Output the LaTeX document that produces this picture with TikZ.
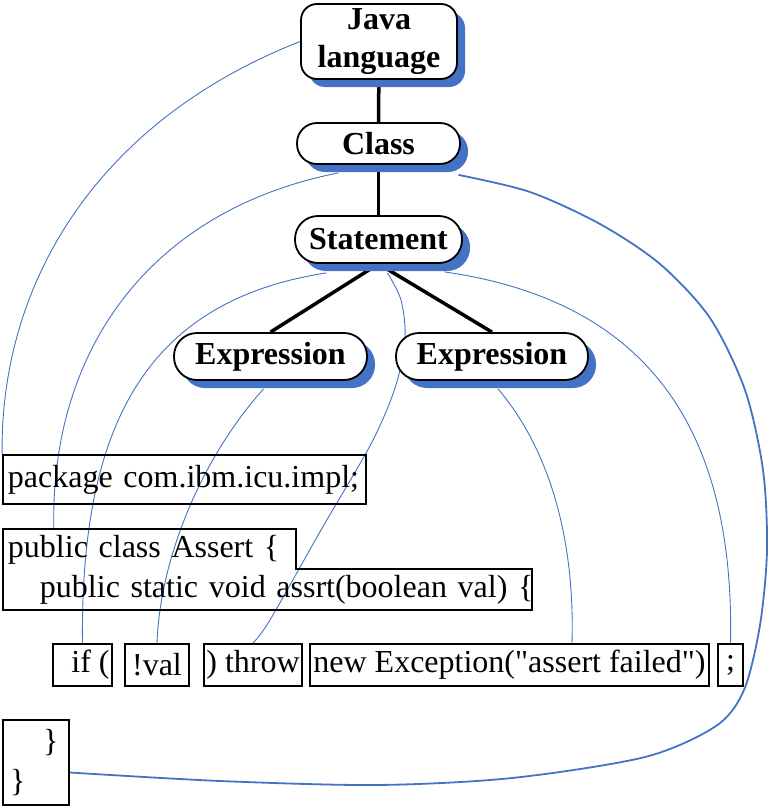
\documentclass[tikz,border=0pt]{standalone}
\usepackage{fontspec}
\setmainfont[Ligatures=TeXOff]{Liberation Serif}
\usetikzlibrary{shadows,backgrounds,calc}
\definecolor{ppblue}{HTML}{4472C4}
\newcommand\tfont{\fontsize{32}{38}\selectfont\bfseries}
\newcommand\cfont{\fontsize{32}{40}\selectfont}
\begin{document}
\begin{tikzpicture}[x=1pt,y=-1pt,
  tnode/.style={draw, line width=1.8pt, fill=white, inner sep=0pt, font=\tfont, align=center,
    drop shadow={shadow xshift=8pt, shadow yshift=-8pt, fill=ppblue, opacity=1}},
  cbox/.style={draw, line width=1.8pt, inner sep=0pt, font=\cfont, minimum height=42pt},
  link/.style={draw=ppblue, line width=0.9pt},
  biglink/.style={draw=ppblue, line width=1.8pt},
  tline/.style={line width=3.5pt}]
\useasboundingbox (0,0) rectangle (772,808);

% tree nodes
\node[tnode, rounded corners=16pt, minimum width=156pt, minimum height=75pt] (java) at (379,41.5) {Java\\language};
\node[tnode, rounded corners=20pt, minimum width=163pt, minimum height=41pt] (class) at (378.5,143.5) {Class};
\node[tnode, rounded corners=23pt, minimum width=167pt, minimum height=47pt] (stmt) at (378.5,239.5) {Statement};
\node[tnode, rounded corners=23pt, minimum width=193pt, minimum height=47pt] (ex1) at (270.5,356.5) {Expression};
\node[tnode, rounded corners=23pt, minimum width=192pt, minimum height=47pt] (ex2) at (492,356.5) {Expression};

% code boxes
\node[cbox, inner xsep=5pt, text width=353pt, align=left, minimum height=49pt] (pkg) at (184.5,479.5) {\mbox{package com.ibm.icu.impl;}};
\node[font=\cfont, inner xsep=5pt, inner ysep=0pt, text width=519pt, align=left, minimum height=81pt] (cls) at (267.5,569.5)
  {\mbox{public class Assert \{}\\\mbox{\hspace*{32pt}public static void assrt(boolean val) \{}};
\draw[line width=1.8pt] (cls.north west) -- ++(293,0) -- ++(0,40) -| (cls.south east) -- (cls.south west) -- cycle;
\node[cbox, minimum width=59pt] (ifb) at (82.5,665) {\hspace*{16pt}if (};
\node[cbox, minimum width=64pt] (val) at (157,665) {!val};
\node[cbox, minimum width=98pt] (thr) at (253,665) {) throw};
\node[cbox, minimum width=399pt] (exc) at (509.5,665) {new Exception("assert failed")};
\node[cbox, minimum width=25pt] (semi) at (730.5,665) {;};
\node[cbox, inner xsep=7pt, text width=52pt, align=left, minimum height=85pt] (brace) at (36,762.5) {\hspace*{33pt}\}\\\}};

\begin{scope}[on background layer]
  % tree edges
  \draw[tline] (java) -- (class);
  \draw[tline] (class) -- (stmt);
  \draw[tline] (stmt.south) -- (ex1.north);
  \draw[tline] (stmt.south) -- (ex2.north);
  % connector end points
  \coordinate (aS) at ($(class.south)+(-40,8)$);
  \coordinate (aE) at ($(cls.north west)+(51,0)$);
  \coordinate (bS) at ($(stmt.south)+(-52,9)$);
  \coordinate (cS) at ($(ex1.south)+(-7,8)$);
  \coordinate (dS) at ($(stmt.south)+(9,9)$);
  \coordinate (eS) at ($(ex2.south)+(6,8)$);
  \coordinate (eE) at ($(exc.north)+(62.5,0)$);
  \coordinate (fS) at ($(stmt.south)+(66,8)$);
  \coordinate (hS) at ($(class.south)+(80,10)$);
  \coordinate (hE) at ($(brace.east)+(0,10)$);
  % links
  \draw[link] (java.west) .. controls (100,120) and (0,280) .. (pkg.north west);
  \draw[link] (aS) .. controls (150,210) and (50,350) .. (aE);
  \draw[link] (bS) .. controls (150,300) and (80,420) .. (ifb.north);
  \draw[link] (cS) .. controls (200,460) and (160,560) .. (val.north);
  \draw[link] plot[smooth] coordinates {(dS) (401,300) (405,337) (396,385) (372,442) (321,530) (270,620) (thr.north)};
  \draw[link] (eS) .. controls (550,450) and (575,540) .. (eE);
  \draw[link] (fS) .. controls (640,300) and (735,420) .. (semi.north);
  \draw[biglink] plot[smooth] coordinates {(hS) (530,192) (600,224) (660,264) (710,318) (745,390) (763,470) (767,550) (760,625) (744,690) (716,726) (645,757) (512,778) (377,785) (220,781) (hE)};
\end{scope}
\end{tikzpicture}
\end{document}
